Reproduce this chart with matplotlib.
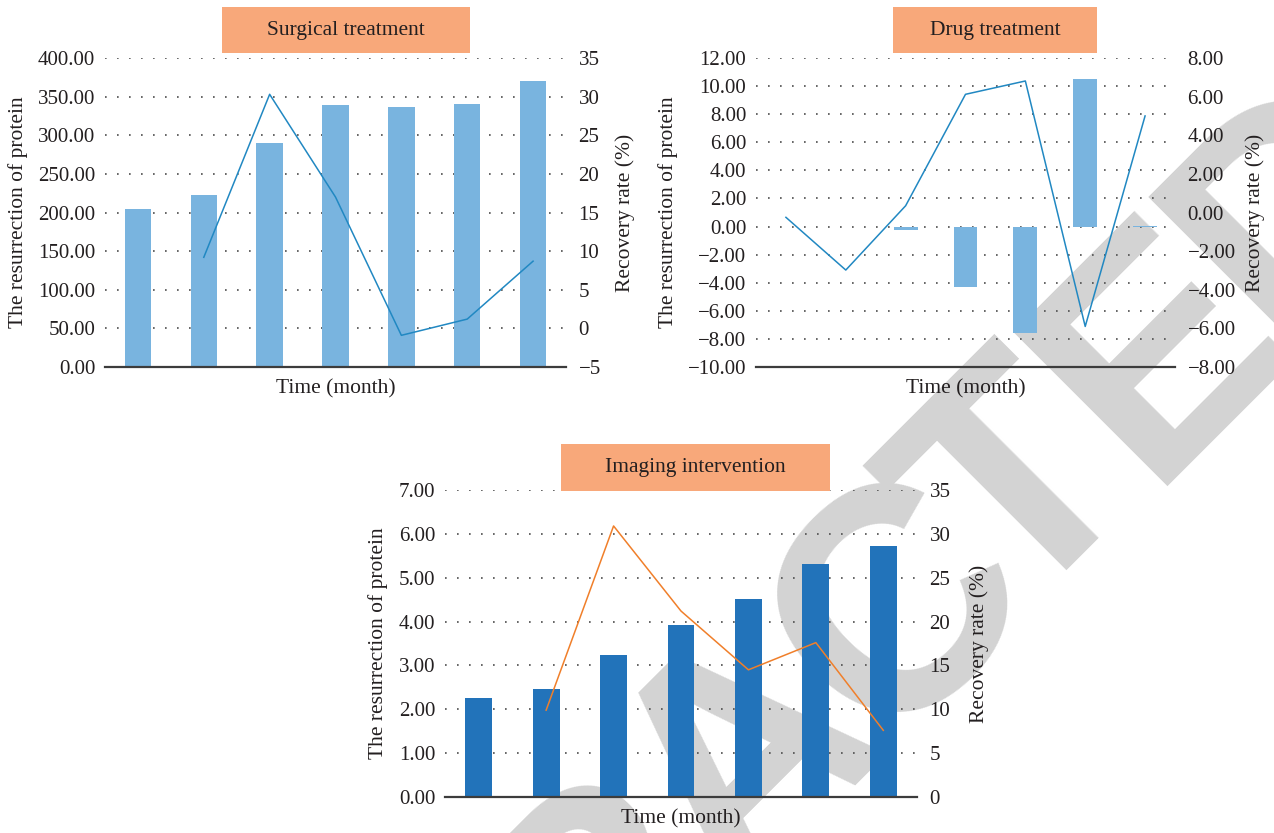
import numpy as np
import matplotlib
matplotlib.use('Agg')
import matplotlib.pyplot as plt
from matplotlib.patches import Rectangle
from matplotlib.ticker import FuncFormatter

months = np.arange(7)

# surgical treatment
surg_protein = [205, 223, 290, 339, 336, 340, 370]
surg_rate = [np.nan, 9.2, 30.3, 17.0, -0.9, 1.2, 8.7]

# drug treatment
drug_protein = [0, 0, -0.25, -4.3, -7.55, 10.5, 0.05]
drug_rate = [-0.25, -2.98, 0.35, 6.12, 6.81, -5.9, 5.0]

# imaging intervention
img_protein = [2.25, 2.47, 3.24, 3.93, 4.52, 5.31, 5.72]
img_rate = [np.nan, 9.9, 30.9, 21.2, 14.5, 17.6, 7.6]

W, H = 1274, 833
serif = ['Liberation Serif', 'DejaVu Serif']
txt_col = '#231f20'
plt.rcParams['font.family'] = serif
plt.rcParams['font.size'] = 15

fig = plt.figure(figsize=(W / 100, H / 100), dpi=100)

# "RETRACTED" stamp behind the charts, one letter at a time along a 45 deg line
stamp = 'RACTED'
stamp_pos = [-214, -9, 207, 375, 573, 772]   # distance along the line, px
cap = 230
for ch, s in zip(stamp, stamp_pos):
    # centre of the letter in image pixels (y down), line x + y = 1470
    cx = 1470 / 2 + s * 0.7071
    cy = 1470 / 2 - s * 0.7071
    bx, by = cx + cap / 2 * 0.7071, cy + cap / 2 * 0.7071
    fig.text(bx / W, 1 - by / H, ch, rotation=45, rotation_mode='anchor',
             ha='center', va='baseline', fontsize=228, color='#d3d3d3',
             family=['Liberation Sans', 'DejaVu Sans'], weight='bold', zorder=-5)


def fmt(nd):
    def f(v, pos):
        s = ('%.' + str(nd) + 'f') % v
        return s.replace('-', '\u2212')
    return FuncFormatter(f)


def panel(px, bars, rate, lticks, rticks, ldec, rdec, bcol, lcol, title, box,
          llab_x, rlab_x):
    x0, y0, x1, y1 = px
    ax = fig.add_axes([x0 / W, 1 - y1 / H, (x1 - x0) / W, (y1 - y0) / H])
    ax.patch.set_alpha(0)
    ax.bar(months, bars, width=0.4, color=bcol, zorder=2)
    ax.set_xlim(-0.5, 6.5)
    ax.set_ylim(lticks[0], lticks[-1])
    ax.set_yticks(lticks)
    ax.yaxis.set_major_formatter(fmt(ldec))
    ax.set_xticks([])
    ax.grid(axis='y', color='#4d4d4d', linestyle=(0, (1, 6.2)), linewidth=1.2)
    for s in ['top', 'left', 'right']:
        ax.spines[s].set_visible(False)
    ax.spines['bottom'].set_color('#3c3c3c')
    ax.spines['bottom'].set_linewidth(1.6)
    ax.spines['bottom'].set_zorder(3)
    ax.tick_params(axis='y', length=0, pad=7, labelcolor=txt_col, labelsize=15)
    ax.set_ylabel('The resurrection of protein', color=txt_col, fontsize=15.5)
    ax.yaxis.set_label_coords((llab_x - x0) / (x1 - x0), 0.5)
    ax.yaxis.label.set_va('center')
    ax.set_xlabel('Time (month)', color=txt_col, fontsize=15.5)
    ax.xaxis.set_label_coords(0.5, -22 / (y1 - y0))
    ax.xaxis.label.set_va('center')

    ax2 = ax.twinx()
    ax2.plot(months, rate, color=lcol, linewidth=1.1)
    ax2.set_ylim(rticks[0], rticks[-1])
    ax2.set_yticks(rticks)
    ax2.yaxis.set_major_formatter(fmt(rdec))
    for s in ['top', 'left', 'right', 'bottom']:
        ax2.spines[s].set_visible(False)
    ax2.tick_params(axis='y', length=0, pad=9, labelcolor=txt_col, labelsize=15)
    ax2.set_ylabel('Recovery rate (%)', color=txt_col, fontsize=15.5)
    ax2.yaxis.set_label_coords((rlab_x - x0) / (x1 - x0), 0.5)
    ax2.yaxis.label.set_va('center')

    bx0, by0, bx1, by1 = box
    fig.patches.append(Rectangle((bx0 / W, 1 - by1 / H), (bx1 - bx0) / W,
                                 (by1 - by0) / H, transform=fig.transFigure,
                                 facecolor='#f8a87a', edgecolor='none', zorder=5))
    fig.text((bx0 + bx1) / 2 / W, 1 - (by0 + by1) / 2 / H, title,
             ha='center', va='center', fontsize=15.5, color=txt_col, zorder=6)
    return ax, ax2


panel((105, 58, 566, 367), surg_protein, surg_rate,
      np.arange(0, 401, 50), np.arange(-5, 36, 5), 2, 0,
      '#79b4df', '#2188c2', 'Surgical treatment', (222, 7, 470, 53), 18, 625)

panel((756, 58, 1175, 367), drug_protein, drug_rate,
      np.arange(-10, 13, 2), np.arange(-8, 9, 2), 2, 2,
      '#79b4df', '#2188c2', 'Drug treatment', (893, 7, 1097, 53), 668, 1255)

panel((445, 490, 917, 797), img_protein, img_rate,
      np.arange(0, 8, 1), np.arange(0, 36, 5), 2, 0,
      '#2273ba', '#f07f2a', 'Imaging intervention', (561, 444, 830, 491), 378, 979)

fig.savefig('out.png', dpi=100)
